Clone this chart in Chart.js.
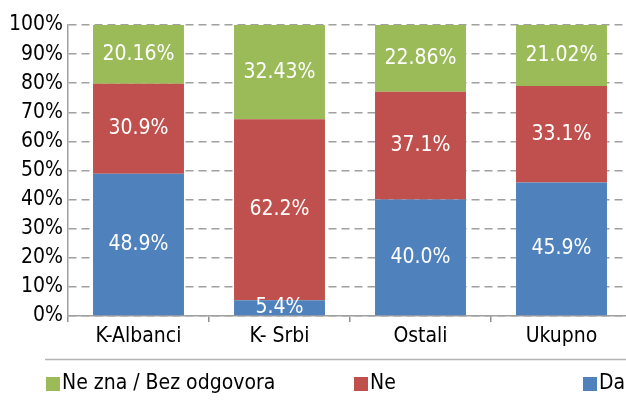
<!DOCTYPE html>
<html>
<head>
<meta charset="utf-8">
<script src="https://cdn.jsdelivr.net/npm/chart.js@4.4.1/dist/chart.umd.min.js"></script>
<style>
  html, body { margin: 0; padding: 0; background: #fff; overflow: hidden; }
  #wrap { width: 640px; height: 401px; position: relative; }
</style>
</head>
<body>
<div id="wrap"><canvas id="chart"></canvas></div>
<script>
'use strict';

// ── DATA ──
const categories = ['K-Albanci', 'K- Srbi', 'Ostali', 'Ukupno'];
const daValues = [48.9, 5.4, 40.0, 45.9];
const neValues = [30.9, 62.2, 37.1, 33.1];
const neZnaValues = [20.16, 32.43, 22.86, 21.02];
const daLabels = ['48.9%', '5.4%', '40.0%', '45.9%'];
const neLabels = ['30.9%', '62.2%', '37.1%', '33.1%'];
const neZnaLabels = ['20.16%', '32.43%', '22.86%', '21.02%'];
const yTicks = [0, 10, 20, 30, 40, 50, 60, 70, 80, 90, 100];

const FONT = '"Liberation Sans Narrow", "DejaVu Sans Condensed", "Roboto Condensed", sans-serif';
const COLORS = { da: '#4F81BD', ne: '#C0504D', neZna: '#9BBB59' };

// ── DATA LABELS (centred in each segment) ──
const segmentLabels = {
  id: 'segmentLabels',
  afterDatasetsDraw(chart) {
    const { ctx } = chart;
    ctx.save();
    ctx.fillStyle = '#fff';
    ctx.font = `21px ${FONT}`;
    ctx.textAlign = 'center';
    ctx.textBaseline = 'middle';
    chart.data.datasets.forEach((ds, i) => {
      chart.getDatasetMeta(i).data.forEach((bar, j) => {
        const y = (bar.y + bar.base) / 2;
        ctx.fillText(ds.valueLabels[j], bar.x, y);
      });
    });
    ctx.restore();
  }
};

// ── LEGEND (below separator line, reversed order) ──
const bottomLegend = {
  id: 'bottomLegend',
  afterDraw(chart) {
    const { ctx } = chart;
    ctx.save();
    ctx.strokeStyle = '#b4b4b4';
    ctx.lineWidth = 1.5;
    ctx.beginPath();
    ctx.moveTo(45, 359.5);
    ctx.lineTo(chart.width, 359.5);
    ctx.stroke();

    const xs = [46, 354, 583];
    const order = [2, 1, 0];
    ctx.font = `21px ${FONT}`;
    ctx.textBaseline = 'middle';
    ctx.textAlign = 'left';
    order.forEach((dsIdx, k) => {
      const ds = chart.data.datasets[dsIdx];
      ctx.fillStyle = ds.backgroundColor;
      ctx.fillRect(xs[k], 377, 14, 14);
      ctx.fillStyle = '#000';
      ctx.fillText(ds.label, xs[k] + 16, 384);
    });
    ctx.restore();
  }
};

new Chart(document.getElementById('chart'), {
  type: 'bar',
  data: {
    labels: categories,
    datasets: [
      { label: 'Da', data: daValues, valueLabels: daLabels, backgroundColor: COLORS.da },
      { label: 'Ne', data: neValues, valueLabels: neLabels, backgroundColor: COLORS.ne },
      { label: 'Ne zna / Bez odgovora', data: neZnaValues, valueLabels: neZnaLabels, backgroundColor: COLORS.neZna },
    ],
  },
  options: {
    responsive: true,
    maintainAspectRatio: false,
    animation: false,
    layout: { padding: { top: 25, right: 8, bottom: 45, left: 0 } },
    datasets: { bar: { categoryPercentage: 1, barPercentage: 0.645, borderWidth: 0 } },
    plugins: { legend: { display: false }, tooltip: { enabled: false } },
    scales: {
      x: {
        stacked: true,
        offset: true,
        grid: { offset: true, drawOnChartArea: false, drawTicks: true, tickLength: 6, color: '#909090', lineWidth: 1.5 },
        border: { color: '#a0a0a0', width: 1.5 },
        ticks: { color: '#000', font: { family: FONT, size: 21 }, padding: 2 },
        afterFit: (s) => { s.height = 40; },
      },
      y: {
        stacked: true,
        min: 0,
        max: 100,
        afterBuildTicks: (s) => { s.ticks = yTicks.map(v => ({ value: v })); },
        grid: { color: '#a0a0a0', lineWidth: 1.5, drawTicks: false },
        border: { color: '#a0a0a0', width: 1.5, dash: [8, 5] },
        ticks: { color: '#000', font: { family: FONT, size: 21 }, padding: 5, autoSkip: false, callback: (v) => v + '%' },
        afterFit: (s) => { s.width = 68; },
      },
    },
  },
  plugins: [segmentLabels, bottomLegend],
});
</script>
</body>
</html>
